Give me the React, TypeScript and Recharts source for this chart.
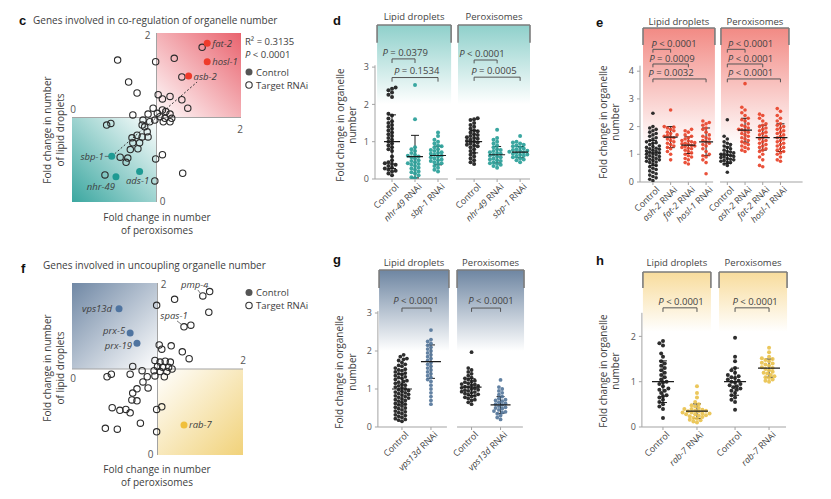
import React from 'react';
import {
  ScatterChart,
  Scatter,
  XAxis,
  YAxis,
  ReferenceArea,
  ReferenceLine,
  ReferenceDot,
  ErrorBar,
} from 'recharts';

const W = 831;
const H = 499;
const FONT = '"Open Sans", "DejaVu Sans", sans-serif';
const INK = '#3d3d3d';
const AXIS = '#a3a3a3';
const BLACK = '#1c1c1c';
const TEAL = '#2a9f99';
const RED = '#e8432a';
const SLATE = '#56779b';
const GOLD = '#e9c24e';

// ---------- c: co-regulation (x = peroxisomes, y = lipid droplets) ----------
const coRegTargets = [
  [1.54, 1.83], [1.21, 1.7], [0.99, 1.66], [0.54, 1.68], [0.67, 1.42], [1.3, 1.48],
  [0.77, 1.29], [1.02, 1.27], [1.07, 1.22], [1.16, 1.25], [1.3, 1.21], [1.37, 1.11],
  [0.96, 1.11], [1.01, 1.05], [1.07, 1.09], [1.11, 1.07], [1.16, 1.04], [1.04, 1.01],
  [1.1, 0.99], [1.18, 0.99], [0.98, 0.97], [1.08, 0.95], [1.16, 0.95], [0.92, 0.95],
  [0.72, 1.03], [0.41, 0.91], [0.46, 0.93], [0.84, 0.97], [0.83, 0.91], [0.89, 0.83],
  [0.77, 0.79], [0.71, 0.76], [0.83, 0.77], [0.9, 0.77], [0.72, 0.7], [0.8, 0.7],
  [0.69, 0.62], [0.78, 0.63], [0.57, 0.53], [0.66, 0.52], [0.64, 0.47], [1.07, 0.56],
  [0.99, 0.51], [0.39, 0.32], [0.98, 0.25], [1.31, 0.34], [0.9, 1.04], [0.86, 0.89],
];
const coRegGenes = ['fat-2', 'hosl-1', 'asb-2', 'sbp-1', 'nhr-49', 'ads-1'];
const coRegGeneX = [1.6, 1.6, 1.38, 0.47, 0.52, 0.8];
const coRegGeneY = [1.88, 1.66, 1.49, 0.54, 0.3, 0.36];
const coRegFit = [[0.47, 0.54], [1.48, 1.42]];
const coRegStats = ['0.3135', '< 0.0001'];

// ---------- f: uncoupling ----------
const uncTargets = [
  [1.61, 1.9], [1.2, 1.81], [0.99, 1.74], [1.6, 1.66], [1.39, 1.51],
  [1.02, 1.28], [1.05, 1.23], [1.16, 1.27], [1.29, 1.2], [1.37, 1.12], [0.71, 1.03],
  [0.97, 1.1], [1.03, 1.08], [1.09, 1.09], [1.15, 1.08], [1.0, 1.03], [1.06, 1.02],
  [1.13, 1.02], [0.96, 0.98], [1.03, 0.97], [1.11, 0.97], [1.17, 1.0], [0.97, 0.92],
  [1.08, 0.91], [0.41, 0.91], [0.46, 0.94], [0.68, 0.94], [0.82, 0.98], [0.88, 0.91],
  [0.83, 0.85], [0.89, 0.78], [0.76, 0.77], [0.71, 0.72], [0.7, 0.64], [0.76, 0.63],
  [0.47, 0.55], [0.56, 0.52], [0.63, 0.53], [0.68, 0.49], [0.99, 0.53], [1.05, 0.56],
  [0.8, 0.37], [0.39, 0.31], [0.53, 0.3], [0.99, 0.27],
];
const uncNamed = ['pmp-4', 'spas-1'];
const uncNamedX = [1.53, 1.31];
const uncNamedY = [1.85, 1.49];
const uncGenes = ['vps13d', 'prx-5', 'prx-19', 'rab-7'];
const uncGeneX = [0.55, 0.68, 0.76, 1.31];
const uncGeneY = [1.7, 1.42, 1.3, 0.35];

// ---------- d ----------
const dHeaders = ['Lipid droplets', 'Peroxisomes'];
const dLabels = ['Control', 'nhr-49 RNAi', 'sbp-1 RNAi', 'Control', 'nhr-49 RNAi', 'sbp-1 RNAi'];
const dValues = [
  [2.45, 2.42, 2.38, 2.32, 2.26, 2.2, 1.75, 1.7, 1.62, 1.55, 1.5, 1.45, 1.4, 1.35, 1.3, 1.25, 1.2, 1.15, 1.1, 1.05, 1.0, 0.95, 0.9, 0.85, 0.8, 0.75, 0.6, 0.5, 0.45, 0.42, 0.4, 0.38, 0.35, 0.3, 0.28, 0.25, 0.22, 0.2, 0.15, 0.1],
  [2.52, 1.6, 0.85, 0.8, 0.75, 0.7, 0.65, 0.62, 0.6, 0.58, 0.55, 0.5, 0.48, 0.45, 0.42, 0.4, 0.38, 0.35, 0.3, 0.28, 0.25, 0.2, 0.18, 0.15, 0.1, 0.05, 0.03],
  [1.25, 1.15, 1.05, 1.0, 0.95, 0.9, 0.88, 0.85, 0.8, 0.78, 0.75, 0.72, 0.7, 0.68, 0.65, 0.62, 0.6, 0.58, 0.55, 0.52, 0.5, 0.48, 0.45, 0.42, 0.4, 0.35, 0.3, 0.25, 0.2],
  [1.63, 1.6, 1.58, 1.5, 1.45, 1.4, 1.35, 1.3, 1.28, 1.25, 1.2, 1.18, 1.15, 1.12, 1.1, 1.08, 1.05, 1.02, 1.0, 0.98, 0.95, 0.92, 0.9, 0.88, 0.85, 0.8, 0.75, 0.7, 0.65, 0.6, 0.55, 0.5, 0.45, 0.4],
  [1.32, 1.1, 1.05, 1.0, 0.95, 0.9, 0.85, 0.8, 0.78, 0.75, 0.72, 0.7, 0.68, 0.65, 0.62, 0.6, 0.58, 0.55, 0.52, 0.5, 0.48, 0.45, 0.42, 0.4, 0.38, 0.35, 0.3],
  [1.15, 1.0, 0.98, 0.95, 0.92, 0.9, 0.88, 0.85, 0.82, 0.8, 0.78, 0.76, 0.75, 0.73, 0.72, 0.7, 0.68, 0.66, 0.65, 0.62, 0.6, 0.58, 0.55, 0.52, 0.5, 0.45],
];
const dMeans = [1.0, 0.6, 0.63, 1.0, 0.65, 0.72];
const dSds = [0.72, 0.57, 0.25, 0.3, 0.22, 0.15];
const dPvals = ['= 0.0379', '= 0.1534', '< 0.0001', '= 0.0005'];
const dCompare = [[0, 1], [0, 2], [3, 4], [3, 5]];

// ---------- e ----------
const eLabels = ['Control', 'ash-2 RNAi', 'fat-2 RNAi', 'hosl-1 RNAi', 'Control', 'ash-2 RNAi', 'fat-2 RNAi', 'hosl-1 RNAi'];
const eValues = [
  [2.48, 2.0, 1.95, 1.9, 1.85, 1.8, 1.75, 1.7, 1.65, 1.6, 1.55, 1.5, 1.45, 1.42, 1.4, 1.35, 1.3, 1.28, 1.25, 1.22, 1.2, 1.18, 1.15, 1.12, 1.1, 1.08, 1.05, 1.02, 1.0, 0.98, 0.95, 0.92, 0.9, 0.88, 0.85, 0.82, 0.8, 0.78, 0.75, 0.72, 0.7, 0.65, 0.6, 0.55, 0.5, 0.45, 0.4, 0.35, 0.3, 0.25, 0.2, 0.15, 0.1, 0.05],
  [2.6, 2.0, 1.98, 1.95, 1.9, 1.85, 1.8, 1.75, 1.7, 1.68, 1.65, 1.62, 1.6, 1.55, 1.5, 1.45, 1.4, 1.35, 1.3, 1.25, 1.2, 1.1, 1.0, 0.8],
  [1.9, 1.85, 1.8, 1.7, 1.65, 1.6, 1.55, 1.5, 1.48, 1.45, 1.42, 1.4, 1.38, 1.35, 1.32, 1.3, 1.28, 1.25, 1.22, 1.2, 1.15, 1.1, 1.05, 1.0, 0.95, 0.9, 0.85, 0.8, 0.7, 0.65],
  [2.2, 2.15, 2.1, 2.05, 1.95, 1.9, 1.8, 1.7, 1.65, 1.6, 1.55, 1.5, 1.45, 1.4, 1.35, 1.3, 1.2, 1.1, 1.0, 0.95, 0.9, 0.8, 0.7, 0.3],
  [2.25, 1.65, 1.55, 1.45, 1.4, 1.35, 1.3, 1.25, 1.2, 1.15, 1.1, 1.08, 1.05, 1.02, 1.0, 0.98, 0.95, 0.92, 0.9, 0.88, 0.85, 0.82, 0.8, 0.78, 0.75, 0.72, 0.7, 0.65, 0.6, 0.35],
  [3.55, 2.7, 2.6, 2.5, 2.4, 2.3, 2.25, 2.2, 2.1, 2.05, 2.0, 1.95, 1.9, 1.88, 1.85, 1.8, 1.75, 1.7, 1.65, 1.6, 1.55, 1.5, 1.45, 1.4, 1.35, 1.3, 1.25, 1.2, 1.15, 1.1],
  [2.45, 2.4, 2.3, 2.2, 2.1, 2.05, 2.0, 1.95, 1.9, 1.85, 1.8, 1.75, 1.7, 1.65, 1.6, 1.55, 1.5, 1.45, 1.4, 1.35, 1.3, 1.25, 1.2, 1.15, 1.1, 1.0, 0.9, 0.8, 0.6, 0.55],
  [2.65, 2.55, 2.4, 2.3, 2.2, 2.1, 2.05, 2.0, 1.95, 1.9, 1.85, 1.8, 1.75, 1.7, 1.65, 1.6, 1.55, 1.5, 1.45, 1.4, 1.35, 1.3, 1.25, 1.2, 1.15, 1.1, 1.05, 1.0, 0.9, 0.8, 0.75],
];
const eMeans = [1.05, 1.62, 1.33, 1.45, 0.97, 1.87, 1.6, 1.6];
const eSds = [0.45, 0.38, 0.3, 0.5, 0.3, 0.43, 0.45, 0.5];
const ePvals = ['< 0.0001', '= 0.0009', '= 0.0032', '< 0.0001', '< 0.0001', '< 0.0001'];
const eCompare = [[0, 1], [0, 2], [0, 3], [4, 5], [4, 6], [4, 7]];

// ---------- g ----------
const gLabels = ['Control', 'vps13d RNAi', 'Control', 'vps13d RNAi'];
const gValues = [
  [1.9, 1.85, 1.8, 1.78, 1.75, 1.7, 1.65, 1.62, 1.6, 1.55, 1.52, 1.5, 1.48, 1.45, 1.42, 1.4, 1.38, 1.35, 1.32, 1.3, 1.28, 1.25, 1.22, 1.2, 1.18, 1.15, 1.12, 1.1, 1.08, 1.05, 1.03, 1.0, 0.98, 0.96, 0.94, 0.92, 0.9, 0.88, 0.86, 0.84, 0.82, 0.8, 0.78, 0.76, 0.74, 0.72, 0.7, 0.68, 0.65, 0.62, 0.6, 0.58, 0.55, 0.52, 0.5, 0.48, 0.45, 0.42, 0.4, 0.38, 0.35, 0.32, 0.3, 0.28, 0.25, 0.22, 0.2, 0.18, 0.15],
  [2.55, 2.3, 2.25, 2.2, 2.15, 2.1, 2.05, 2.0, 1.95, 1.9, 1.85, 1.8, 1.75, 1.7, 1.65, 1.6, 1.55, 1.5, 1.45, 1.4, 1.35, 1.3, 1.25, 1.2, 1.1, 1.0, 0.9, 0.8, 0.7, 0.6],
  [1.97, 1.55, 1.5, 1.45, 1.4, 1.35, 1.3, 1.28, 1.25, 1.22, 1.2, 1.18, 1.15, 1.13, 1.12, 1.1, 1.08, 1.06, 1.05, 1.03, 1.02, 1.0, 0.98, 0.97, 0.95, 0.93, 0.92, 0.9, 0.88, 0.86, 0.85, 0.82, 0.8, 0.78, 0.75, 0.72, 0.7, 0.65, 0.6],
  [1.24, 1.05, 1.0, 0.95, 0.9, 0.85, 0.8, 0.75, 0.72, 0.7, 0.68, 0.65, 0.62, 0.6, 0.58, 0.55, 0.52, 0.5, 0.48, 0.45, 0.42, 0.4, 0.38, 0.35, 0.3, 0.25, 0.2],
];
const gMeans = [1.0, 1.72, 1.05, 0.58];
const gSds = [0.4, 0.44, 0.22, 0.22];
const gPvals = ['< 0.0001', '< 0.0001'];
const gCompare = [[0, 1], [2, 3]];

// ---------- h ----------
const hLabels = ['Control', 'rab-7 RNAi', 'Control', 'rab-7 RNAi'];
const hValues = [
  [1.9, 1.85, 1.8, 1.62, 1.55, 1.45, 1.4, 1.35, 1.3, 1.25, 1.2, 1.15, 1.1, 1.05, 1.0, 0.98, 0.95, 0.9, 0.85, 0.82, 0.8, 0.75, 0.7, 0.68, 0.65, 0.6, 0.55, 0.5, 0.45, 0.4, 0.2],
  [0.9, 0.75, 0.65, 0.55, 0.5, 0.48, 0.45, 0.42, 0.4, 0.4, 0.38, 0.36, 0.36, 0.35, 0.34, 0.32, 0.32, 0.3, 0.3, 0.28, 0.28, 0.26, 0.25, 0.24, 0.22, 0.2, 0.18, 0.16, 0.15, 0.12, 0.1],
  [1.97, 1.55, 1.45, 1.3, 1.25, 1.2, 1.15, 1.12, 1.1, 1.08, 1.05, 1.02, 1.0, 0.98, 0.95, 0.92, 0.9, 0.88, 0.85, 0.82, 0.8, 0.75, 0.7, 0.65, 0.6, 0.55, 0.38],
  [1.75, 1.65, 1.55, 1.52, 1.5, 1.48, 1.45, 1.42, 1.4, 1.38, 1.35, 1.32, 1.3, 1.28, 1.25, 1.22, 1.2, 1.18, 1.15, 1.12, 1.1, 1.08, 1.05, 1.02, 1.0],
];
const hMeans = [1.0, 0.35, 1.0, 1.3];
const hSds = [0.46, 0.16, 0.3, 0.2];

// ---------- layout (pixels / value levels), kept apart from the data ----------
const dLayout = {
  pos: [0, 1, 2, 3.57, 4.57, 5.57],
  xDomain: [-0.74, 6.0], yDomain: [0, 4.5], box: [375, 11.15, 530, 179],
  yTicks: [0, 1, 2, 3], yTop: 3.05, axisRuns: [[-0.74, 2.43], [2.78, 6.0]],
  head: { top: 4.13, low: 3.65, textY: 4.36, spans: [[-0.65, 2.57], [2.87, 6.0]] },
  fade: 2.0,
  pText: [[0.57, 3.4], [1.07, 2.9], [3.91, 3.37], [4.43, 2.9]],
  pBar: [[3.22, 3.11], [2.72, 2.61], [3.19, 3.1], [2.73, 2.63]],
  dotR: 2, swarmD: 3.6, meanHalf: 8,
};
const eLayout = {
  pos: [0, 1, 2, 3, 4.2, 5.2, 6.2, 7.2],
  xDomain: [-0.73, 8.45], yDomain: [0, 6.2], box: [640, 10.26, 802.6, 182],
  yTicks: [0, 1, 2, 3, 4], yTop: 4.2, axisRuns: [[-0.73, 3.4], [3.79, 8.45]],
  head: { top: 5.56, low: 4.95, textY: 5.81, spans: [[-0.56, 3.5], [3.84, 7.68]] },
  fade: 1.3,
  pText: [[1.19, 5.0], [1.07, 4.46], [1.02, 3.95], [5.51, 5.0], [5.51, 4.46], [5.51, 3.95]],
  pBar: [[4.79, 4.67], [4.26, 4.14], [3.72, 3.6], [4.79, 4.67], [4.26, 4.14], [3.72, 3.6]],
  dotR: 1.8, swarmD: 3.2, meanHalf: 7,
};
const gLayout = {
  pos: [0, 1, 2.4, 3.4],
  xDomain: [-0.83, 4.25], yDomain: [0, 4.6], box: [377.9, 252.2, 525.2, 427],
  yTicks: [0, 1, 2, 3], yTop: 3.05, axisRuns: [[-0.83, 1.55], [1.9, 4.17]],
  head: { top: 4.13, low: 3.66, textY: 4.32, spans: [[-0.79, 1.62], [1.9, 4.21]] },
  fade: 2.0,
  pText: [[0.48, 3.34], [3.07, 3.34]],
  pBar: [[3.13, 3.03], [3.13, 3.03]],
  dotR: 1.9, swarmD: 3.3, meanHalf: 10,
};
const hLayout = {
  pos: [0, 1, 2.12, 3.12],
  xDomain: [-0.62, 3.66], yDomain: [0, 3.9], box: [641.9, 250.3, 787.4, 427],
  yTicks: [0, 1, 2], yTop: 2.52, axisRuns: [[-0.62, 3.62]],
  head: { top: 3.42, low: 3.07, textY: 3.64, spans: [[-0.59, 1.41], [1.65, 3.65]] },
  fade: 2.1,
  pText: [[0.53, 2.78], [2.71, 2.78]],
  pBar: [[2.63, 2.54], [2.63, 2.54]],
  dotR: 2, swarmD: 3.6, meanHalf: 11,
};

// simple deterministic beeswarm: spreads equal-ish values sideways so dots don't pile up
function swarm(values: number[], center: number, ppuX: number, ppuY: number, d: number) {
  const placed: [number, number][] = [];
  return [...values].sort((a, b) => a - b).map((v) => {
    const py = v * ppuY;
    let off = 0;
    for (let k = 0; k < 80; k++) {
      const cand = (k % 2 ? -1 : 1) * Math.ceil(k / 2) * d * 0.5;
      if (placed.every(([qx, qy]) => Math.hypot(qx - cand, qy - py) >= d)) {
        off = cand;
        break;
      }
    }
    placed.push([off, py]);
    return { x: center + off / ppuX, y: v };
  });
}

const GroupTick = (props: any) => {
  const { x, y, payload, labels, pos } = props;
  const i = pos.indexOf(payload.value);
  const label: string = labels[i] ?? '';
  const m = label.match(/^(.*) (RNAi)$/);
  return (
    <g transform={`translate(${x + 3},${y - 1})`}>
      <text x={0} y={0} dy={6} textAnchor="end" transform="rotate(-45)" fontSize={9} fill="#444" fontFamily={FONT}>
        {m ? (
          <>
            <tspan fontStyle="italic">{m[1]}</tspan>
            <tspan> {m[2]}</tspan>
          </>
        ) : label}
      </text>
    </g>
  );
};

const textShape = (content: React.ReactNode, dx = 0, dy = 0, anchor = 'middle', size = 9.5, fill = INK) =>
  (p: any) => (
    <text x={p.cx + dx} y={p.cy + dy} textAnchor={anchor} dominantBaseline="central" fontSize={size} fill={fill} fontFamily={FONT}>
      {content}
    </text>
  );

function StripChart({ id, tint, headers, labels, values, means, sds, colors, pvals, compare, L }: any) {
  const [left, top, right, bottom] = L.box;
  const ppuX = (right - left) / (L.xDomain[1] - L.xDomain[0]);
  const ppuY = (bottom - top) / (L.yDomain[1] - L.yDomain[0]);
  const series = values.map((vals: number[], i: number) => swarm(vals, L.pos[i], ppuX, ppuY, L.swarmD));
  const meanData = L.pos.map((p: number, i: number) => ({ x: p, y: means[i], sd: sds[i] }));
  const x0 = L.xDomain[0];
  const hd = L.head;
  return (
    <ScatterChart width={W} height={H} margin={{ left: left - 20, top, right: W - right, bottom: H - bottom - 40 }}>
      <defs>
        <linearGradient id={id} x1="0" y1="0" x2="0" y2="1">
          <stop offset="0%" stopColor={tint} stopOpacity={1} />
          <stop offset="100%" stopColor={tint} stopOpacity={0} />
        </linearGradient>
      </defs>
      <XAxis
        type="number" dataKey="x" domain={L.xDomain} allowDataOverflow ticks={L.pos} interval={0}
        axisLine={false} tickLine={{ stroke: AXIS }} tickSize={3} height={40}
        tick={<GroupTick labels={labels} pos={L.pos} />}
      />
      <YAxis
        type="number" dataKey="y" domain={L.yDomain} allowDataOverflow ticks={L.yTicks} interval={0}
        axisLine={false} tickLine={{ stroke: AXIS }} tickSize={3} tickMargin={3} width={20}
        tick={{ fontSize: 9, fill: '#555', fontFamily: FONT }}
      />
      {hd.spans.map(([a, b]: number[], i: number) => (
        <ReferenceArea key={'ga' + i} x1={a} x2={b} y1={L.fade} y2={hd.top} fill={`url(#${id})`} fillOpacity={1} stroke="none" />
      ))}
      <ReferenceLine segment={[{ x: x0, y: 0 }, { x: x0, y: L.yTop }]} stroke={AXIS} strokeWidth={1} />
      {L.axisRuns.map(([a, b]: number[], i: number) => (
        <ReferenceLine key={'ax' + i} segment={[{ x: a, y: 0 }, { x: b, y: 0 }]} stroke={AXIS} strokeWidth={1} />
      ))}
      {hd.spans.map(([a, b]: number[], i: number) => (
        <React.Fragment key={'hb' + i}>
          <ReferenceLine segment={[{ x: a, y: hd.top }, { x: b, y: hd.top }]} stroke="#7b7b7b" strokeWidth={1.6} />
          <ReferenceLine segment={[{ x: a, y: hd.top }, { x: a, y: hd.low }]} stroke="#7b7b7b" strokeWidth={1.6} />
          <ReferenceLine segment={[{ x: b, y: hd.top }, { x: b, y: hd.low }]} stroke="#7b7b7b" strokeWidth={1.6} />
          <ReferenceDot x={(a + b) / 2} y={hd.textY} r={1} shape={textShape(headers[i], 0, 0, 'middle', 9.5, '#444')} />
        </React.Fragment>
      ))}
      {compare.map(([g1, g2]: number[], i: number) => {
        const xa = L.pos[g1];
        const xb = L.pos[g2];
        const [yb, yl] = L.pBar[i];
        const [tx, ty] = L.pText[i];
        return (
          <React.Fragment key={'pv' + i}>
            <ReferenceLine segment={[{ x: xa, y: yb }, { x: xb, y: yb }]} stroke="#555" strokeWidth={1} />
            <ReferenceLine segment={[{ x: xa, y: yb }, { x: xa, y: yl }]} stroke="#555" strokeWidth={1} />
            <ReferenceLine segment={[{ x: xb, y: yb }, { x: xb, y: yl }]} stroke="#555" strokeWidth={1} />
            <ReferenceDot
              x={tx} y={ty} r={1}
              shape={textShape(<><tspan fontStyle="italic">P</tspan>{' ' + pvals[i]}</>, 0, 0, 'middle', 9.5, '#444')}
            />
          </React.Fragment>
        );
      })}
      {series.map((pts: any[], i: number) => (
        <Scatter
          key={'s' + i} data={pts} isAnimationActive={false}
          shape={(p: any) => <circle cx={p.cx} cy={p.cy} r={L.dotR} fill={colors[i]} fillOpacity={0.92} />}
        />
      ))}
      <Scatter
        data={meanData} isAnimationActive={false}
        shape={(p: any) => (
          <line x1={p.cx - L.meanHalf} x2={p.cx + L.meanHalf} y1={p.cy} y2={p.cy} stroke={BLACK} strokeWidth={1.2} />
        )}
      >
        <ErrorBar dataKey="sd" direction="y" width={4} stroke={BLACK} strokeWidth={1} isAnimationActive={false} />
      </Scatter>
    </ScatterChart>
  );
}

const openCircle = (p: any) => <circle cx={p.cx} cy={p.cy} r={3.2} fill="none" stroke="#2b2b2b" strokeWidth={1.1} />;

// label placement of the highlighted genes: [dx, dy, anchor, connector]
const geneLabelPos: Record<string, [number, number, string, boolean]> = {
  'fat-2': [5, 0, 'start', false],
  'hosl-1': [5, 0, 'start', false],
  'asb-2': [5, 0, 'start', false],
  'sbp-1': [-8, 0, 'end', true],
  'nhr-49': [-1, 10, 'end', false],
  'ads-1': [-2, 9, 'middle', false],
  vps13d: [-7, 0, 'end', false],
  'prx-5': [-5, -2, 'end', false],
  'prx-19': [-5, 2, 'end', false],
  'rab-7': [5, 0, 'start', false],
  'pmp-4': [-8, -10, 'middle', false],
  'spas-1': [-10, -10, 'middle', false],
};

const geneDot = (color: (name: string) => string) => (p: any) => {
  const name = p.payload.name;
  const [dx, dy, anchor, link] = geneLabelPos[name];
  return (
    <g>
      <circle cx={p.cx} cy={p.cy} r={3.5} fill={color(name)} />
      {link && <line x1={p.cx - 7} x2={p.cx - 3} y1={p.cy} y2={p.cy} stroke="#555" strokeWidth={0.8} />}
      <text x={p.cx + dx} y={p.cy + dy} textAnchor={anchor as any} dominantBaseline="central" fontSize={9.5} fontStyle="italic" fill={INK} fontFamily={FONT}>
        {name}
      </text>
    </g>
  );
};

const namedTarget = (p: any) => {
  const name = p.payload.name;
  const [dx, dy] = geneLabelPos[name];
  return (
    <g>
      <circle cx={p.cx} cy={p.cy} r={3.2} fill="none" stroke="#2b2b2b" strokeWidth={1.1} />
      <line x1={p.cx + dx + 3} y1={p.cy + dy + 4} x2={p.cx - 2} y2={p.cy - 2} stroke="#555" strokeWidth={0.8} />
      <text x={p.cx + dx} y={p.cy + dy - 1} textAnchor="middle" dominantBaseline="central" fontSize={9.5} fontStyle="italic" fill={INK} fontFamily={FONT}>
        {name}
      </text>
    </g>
  );
};

function QuadrantChart({ margin, grads, areas, targets, genes, colorOf, fit, ticks, named }: any) {
  return (
    <ScatterChart width={W} height={H} margin={margin}>
      <defs>
        {grads.map((g: any) => (
          <linearGradient key={g.id} id={g.id} x1={g.v[0]} y1={g.v[1]} x2={g.v[2]} y2={g.v[3]}>
            <stop offset="0%" stopColor={g.from} />
            <stop offset="100%" stopColor={g.to} />
          </linearGradient>
        ))}
      </defs>
      <XAxis type="number" dataKey="x" domain={[0, 2]} allowDataOverflow hide />
      <YAxis type="number" dataKey="y" domain={[0, 2]} allowDataOverflow hide />
      {areas.map((a: any) => (
        <ReferenceArea key={a.fill} x1={a.x1} x2={a.x2} y1={a.y1} y2={a.y2} fill={a.fill} fillOpacity={1} stroke="none" />
      ))}
      <ReferenceLine x={1} stroke={AXIS} strokeWidth={1} />
      <ReferenceLine y={1} stroke={AXIS} strokeWidth={1} />
      {fit && (
        <ReferenceLine
          segment={[{ x: fit[0][0], y: fit[0][1] }, { x: fit[1][0], y: fit[1][1] }]}
          stroke="#333" strokeWidth={1} strokeDasharray="2 2"
        />
      )}
      {ticks.map((t: any, i: number) => (
        <ReferenceDot key={'t' + i} x={t.x} y={t.y} r={1} shape={textShape(t.label, t.dx, t.dy, 'middle', 10, '#555')} />
      ))}
      <Scatter data={targets.map(([x, y]: number[]) => ({ x, y }))} shape={openCircle} isAnimationActive={false} />
      {named && <Scatter data={named} shape={namedTarget} isAnimationActive={false} />}
      <Scatter data={genes} shape={geneDot(colorOf)} isAnimationActive={false} />
    </ScatterChart>
  );
}

const VTitle = ({ x, cy, lines, gap = 12.5 }: any) => (
  <>
    {lines.map((l: string, i: number) => (
      <text
        key={l} transform={`translate(${x + i * gap},${cy}) rotate(-90)`} textAnchor="middle" dominantBaseline="central"
        fontSize={10} fill={INK} fontFamily={FONT}
      >
        {l}
      </text>
    ))}
  </>
);

function Overlay() {
  const letter = { fontSize: 13, fontWeight: 700, fill: '#111', fontFamily: 'Arial, "Liberation Sans", sans-serif' } as const;
  const txt = { fontSize: 10, fill: INK, fontFamily: FONT } as const;
  const leg = { fontSize: 9.5, fill: INK, fontFamily: FONT } as const;
  return (
    <svg width={W} height={H} style={{ position: 'absolute', left: 0, top: 0, pointerEvents: 'none' }}>
      <text x={19} y={25} {...letter}>c</text>
      <text x={33} y={24} {...txt}>Genes involved in co-regulation of organelle number</text>
      <text x={21} y={273} {...letter}>f</text>
      <text x={43} y={269} {...txt}>Genes involved in uncoupling organelle number</text>
      <text x={333} y={25} {...letter}>d</text>
      <text x={596} y={27} {...letter}>e</text>
      <text x={333} y={264} {...letter}>g</text>
      <text x={596} y={265} {...letter}>h</text>

      <VTitle x={47} cy={130} lines={['Fold change in number', 'of lipid droplets']} gap={13} />
      <VTitle x={47} cy={368} lines={['Fold change in number', 'of lipid droplets']} gap={13} />
      <text x={157} y={221} textAnchor="middle" {...txt}>Fold change in number</text>
      <text x={157} y={234} textAnchor="middle" {...txt}>of peroxisomes</text>
      <text x={157} y={473} textAnchor="middle" {...txt}>Fold change in number</text>
      <text x={157} y={486} textAnchor="middle" {...txt}>of peroxisomes</text>

      <VTitle x={340} cy={125} lines={['Fold change in organelle', 'number']} gap={11.5} />
      <VTitle x={603} cy={122} lines={['Fold change in organelle', 'number']} gap={11.5} />
      <VTitle x={339} cy={372} lines={['Fold change in organelle', 'number']} gap={12.5} />
      <VTitle x={603} cy={371} lines={['Fold change in organelle', 'number']} gap={11.5} />

      <text x={245} y={44.5} {...leg}>
        {'R² = ' + coRegStats[0]}
      </text>
      <text x={245} y={58} {...leg}>
        <tspan fontStyle="italic">P</tspan> {coRegStats[1]}
      </text>
      <circle cx={249} cy={72} r={3.5} fill="#555" />
      <text x={256} y={75.5} {...leg}>Control</text>
      <circle cx={249} cy={85} r={3.2} fill="none" stroke="#333" strokeWidth={1.1} />
      <text x={256} y={88.5} {...leg}>Target RNAi</text>

      <circle cx={249} cy={292.5} r={3.5} fill="#555" />
      <text x={256} y={296} {...leg}>Control</text>
      <circle cx={249} cy={305.5} r={3.2} fill="none" stroke="#333" strokeWidth={1.1} />
      <text x={256} y={309} {...leg}>Target RNAi</text>
    </svg>
  );
}

const layer: React.CSSProperties = { position: 'absolute', left: 0, top: 0 };

export default function App() {
  const coGenes = coRegGenes.map((name, i) => ({ name, x: coRegGeneX[i], y: coRegGeneY[i] }));
  const unGenes = uncGenes.map((name, i) => ({ name, x: uncGeneX[i], y: uncGeneY[i] }));
  const unNamed = uncNamed.map((name, i) => ({ name, x: uncNamedX[i], y: uncNamedY[i] }));
  return (
    <div style={{ position: 'absolute', left: 0, top: 0, width: W, height: H, background: '#fff', overflow: 'hidden' }}>
      <div style={layer}>
        <QuadrantChart
          margin={{ left: 72, right: W - 241, top: 33, bottom: H - 202 }}
          grads={[
            { id: 'cPink', v: [0, 1, 1, 0], from: '#ffffff', to: '#e9636e' },
            { id: 'cTeal', v: [1, 0, 0, 1], from: '#ffffff', to: '#3ba7a0' },
          ]}
          areas={[
            { x1: 1, x2: 2, y1: 1, y2: 2, fill: 'url(#cPink)' },
            { x1: 0, x2: 1, y1: 0, y2: 1, fill: 'url(#cTeal)' },
          ]}
          targets={coRegTargets}
          genes={coGenes}
          colorOf={(n: string) => (['fat-2', 'hosl-1', 'asb-2'].includes(n) ? '#ee3b2b' : '#1e9a93')}
          fit={coRegFit}
          ticks={[
            { x: 0, y: 1, label: '0', dx: 1, dy: -9 },
            { x: 2, y: 1, label: '2', dx: -1, dy: 11 },
            { x: 1, y: 2, label: '2', dx: -9, dy: 2 },
            { x: 1, y: 0, label: '0', dx: 6, dy: -1 },
          ]}
        />
      </div>
      <div style={layer}>
        <QuadrantChart
          margin={{ left: 72, right: W - 243, top: 283, bottom: H - 455 }}
          grads={[
            { id: 'fSlate', v: [0, 0, 1, 1], from: '#7088a5', to: '#ffffff' },
            { id: 'fGold', v: [0, 0, 1, 1], from: '#ffffff', to: '#f1d27a' },
          ]}
          areas={[
            { x1: 0, x2: 1, y1: 1, y2: 2, fill: 'url(#fSlate)' },
            { x1: 1, x2: 2, y1: 0, y2: 1, fill: 'url(#fGold)' },
          ]}
          targets={uncTargets}
          named={unNamed}
          genes={unGenes}
          colorOf={(n: string) => (n === 'rab-7' ? '#f0bf3c' : '#4f74a0')}
          ticks={[
            { x: 1, y: 2, label: '2', dx: 6, dy: 1 },
            { x: 1, y: 0, label: '0', dx: -7, dy: -1 },
            { x: 0, y: 1, label: '0', dx: 1, dy: 9 },
            { x: 2, y: 1, label: '2', dx: 0, dy: -9 },
          ]}
        />
      </div>
      <div style={layer}>
        <StripChart
          id="dTint" tint="#8fd0cb" headers={dHeaders} labels={dLabels} values={dValues}
          means={dMeans} sds={dSds} colors={[BLACK, TEAL, TEAL, BLACK, TEAL, TEAL]}
          pvals={dPvals} compare={dCompare} L={dLayout}
        />
      </div>
      <div style={layer}>
        <StripChart
          id="eTint" tint="#f28a84" headers={dHeaders} labels={eLabels} values={eValues}
          means={eMeans} sds={eSds} colors={[BLACK, RED, RED, RED, BLACK, RED, RED, RED]}
          pvals={ePvals} compare={eCompare} L={eLayout}
        />
      </div>
      <div style={layer}>
        <StripChart
          id="gTint" tint="#6e86a2" headers={dHeaders} labels={gLabels} values={gValues}
          means={gMeans} sds={gSds} colors={[BLACK, SLATE, BLACK, SLATE]}
          pvals={gPvals} compare={gCompare} L={gLayout}
        />
      </div>
      <div style={layer}>
        <StripChart
          id="hTint" tint="#f8dc9c" headers={dHeaders} labels={hLabels} values={hValues}
          means={hMeans} sds={hSds} colors={[BLACK, GOLD, BLACK, GOLD]}
          pvals={gPvals} compare={gCompare} L={hLayout}
        />
      </div>
      <Overlay />
    </div>
  );
}
